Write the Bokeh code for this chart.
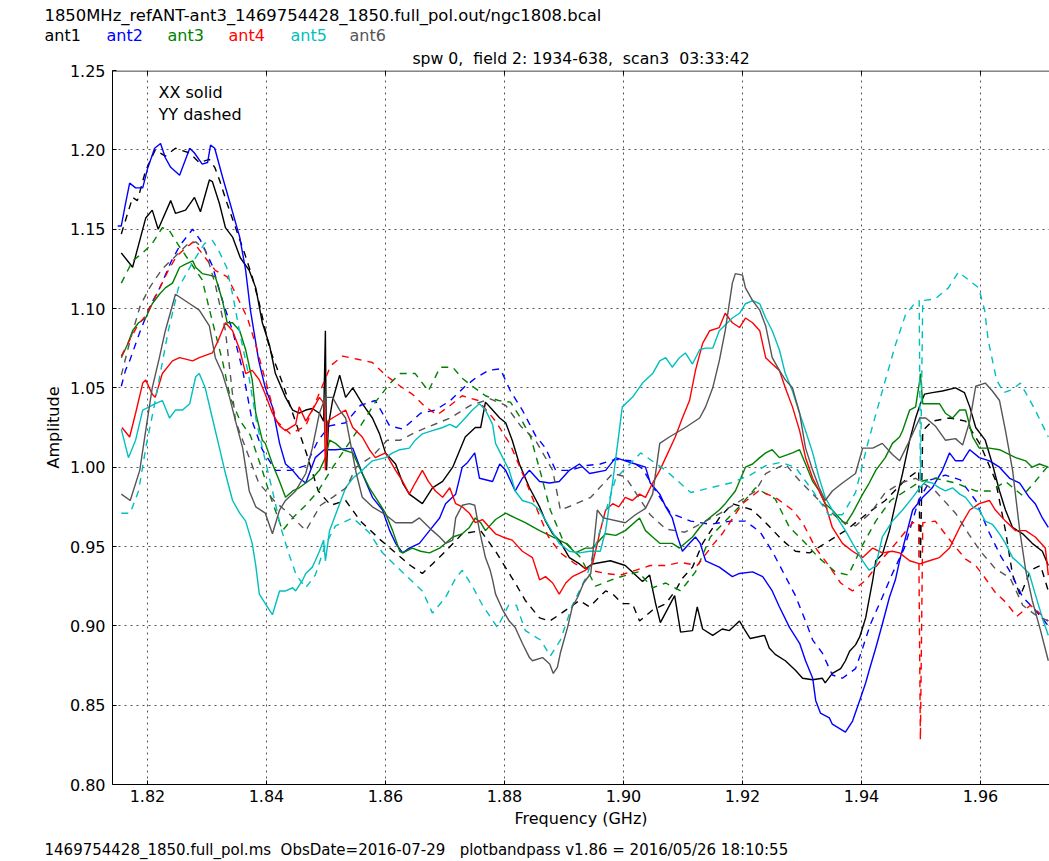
from bokeh.plotting import figure
from bokeh.layouts import column
from bokeh.models import Span, FixedTicker, PrintfTickFormatter, Range1d
from bokeh.core.properties import value
from bokeh.embed import file_html
from bokeh.resources import INLINE

FONT = "DejaVu Sans"
FS = "16px"
NB = "\u00a0"

# Bandpass amplitude vs frequency (GHz) for each antenna, (freq, amp) pairs
ant1_xx = [(1.8156,1.135),(1.8175,1.126),(1.8197,1.157),(1.8208,1.162),(1.8218,1.150),(1.8239,1.168),(1.8247,1.160),(1.8264,1.162),(1.8279,1.170),(1.8289,1.161),(1.8304,1.181),(1.8309,1.180),(1.8321,1.166),(1.8331,1.151),(1.8343,1.145),(1.8356,1.132),(1.8371,1.124),(1.8382,1.113),(1.8393,1.091),(1.8405,1.077),(1.8415,1.059),(1.8432,1.044),(1.8444,1.036),(1.8455,1.034),(1.8466,1.036),(1.8477,1.037),(1.8489,1.034),(1.8496,1.029),(1.8499,1.086),(1.8501,0.998),(1.8504,1.026),(1.8511,1.042),(1.8523,1.058),(1.8533,1.044),(1.8545,1.050),(1.8561,1.040),(1.8578,1.031),(1.8590,1.021),(1.8600,1.009),(1.8617,1.002),(1.8629,0.990),(1.8640,0.983),(1.8662,0.977),(1.8679,0.987),(1.8696,0.991),(1.8713,1.000),(1.8734,1.019),(1.8751,1.025),(1.8760,1.025),(1.8768,1.041),(1.8780,1.036),(1.8792,1.031),(1.8802,1.028),(1.8813,1.017),(1.8825,1.002),(1.8842,0.987),(1.8859,0.975),(1.8869,0.966),(1.8881,0.958),(1.8892,0.954),(1.8909,0.943),(1.8926,0.939),(1.8936,0.936),(1.8948,0.939),(1.8978,0.941),(1.9003,0.938),(1.9032,0.928),(1.9044,0.932),(1.9054,0.914),(1.9062,0.902),(1.9086,0.919),(1.9096,0.896),(1.9116,0.897),(1.9124,0.912),(1.9133,0.898),(1.9150,0.894),(1.9166,0.898),(1.9178,0.897),(1.9195,0.903),(1.9203,0.898),(1.9213,0.892),(1.9237,0.894),(1.9245,0.886),(1.9255,0.882),(1.9272,0.878),(1.9289,0.872),(1.9301,0.867),(1.9318,0.866),(1.9334,0.867),(1.9339,0.864),(1.9351,0.870),(1.9365,0.873),(1.9373,0.878),(1.9380,0.884),(1.9390,0.888),(1.9397,0.893),(1.9402,0.899),(1.9407,0.905),(1.9419,0.929),(1.9424,0.941),(1.9435,0.945),(1.9447,0.960),(1.9457,0.977),(1.9469,0.996),(1.9481,1.017),(1.9491,1.031),(1.9499,1.040),(1.9506,1.046),(1.9519,1.047),(1.9536,1.048),(1.9558,1.050),(1.9573,1.047),(1.9582,1.038),(1.9592,1.025),(1.9608,1.017),(1.9620,1.002),(1.9632,0.985),(1.9642,0.973),(1.9654,0.962),(1.9671,0.958),(1.9687,0.952),(1.9704,0.947),(1.9714,0.938)]

ant1_yy = [(1.8156,1.147),(1.8175,1.170),(1.8183,1.168),(1.8197,1.187),(1.8213,1.200),(1.8230,1.196),(1.8247,1.201),(1.8271,1.198),(1.8287,1.192),(1.8304,1.194),(1.8313,1.189),(1.8321,1.181),(1.8334,1.166),(1.8348,1.151),(1.8363,1.135),(1.8376,1.120),(1.8388,1.103),(1.8405,1.075),(1.8427,1.053),(1.8444,1.034),(1.8466,1.010),(1.8487,0.985),(1.8508,0.976),(1.8533,0.979),(1.8558,0.966),(1.8592,0.954),(1.8617,0.946),(1.8642,0.938),(1.8662,0.933),(1.8679,0.939),(1.8701,0.947),(1.8729,0.958),(1.8760,0.960),(1.8785,0.947),(1.8808,0.933),(1.8818,0.927),(1.8835,0.916),(1.8859,0.905),(1.8876,0.903),(1.8892,0.907),(1.8926,0.916),(1.8943,0.912),(1.8970,0.922),(1.8982,0.920),(1.8998,0.914),(1.9015,0.914),(1.9027,0.903),(1.9049,0.910),(1.9071,0.914),(1.9087,0.922),(1.9099,0.930),(1.9116,0.937),(1.9133,0.952),(1.9161,0.968),(1.9183,0.977),(1.9217,0.973),(1.9239,0.965),(1.9267,0.954),(1.9289,0.947),(1.9313,0.946),(1.9339,0.952),(1.9373,0.960),(1.9407,0.970),(1.9440,0.979),(1.9474,0.992),(1.9496,0.998),(1.9499,0.941),(1.9503,1.023),(1.9519,1.029),(1.9548,1.031),(1.9575,1.029),(1.9600,1.014),(1.9625,0.992),(1.9642,0.960),(1.9654,0.932),(1.9667,0.919),(1.9684,0.935),(1.9701,0.938),(1.9714,0.922)]

ant2_xx = [(1.8150,1.152),(1.8156,1.152),(1.8163,1.166),(1.8170,1.179),(1.8180,1.176),(1.8192,1.176),(1.8200,1.188),(1.8212,1.201),(1.8222,1.204),(1.8230,1.195),(1.8239,1.189),(1.8254,1.184),(1.8271,1.201),(1.8279,1.198),(1.8292,1.191),(1.8301,1.192),(1.8306,1.203),(1.8313,1.201),(1.8326,1.183),(1.8339,1.166),(1.8355,1.145),(1.8365,1.124),(1.8373,1.099),(1.8387,1.067),(1.8398,1.050),(1.8410,1.038),(1.8422,1.015),(1.8432,1.002),(1.8444,0.998),(1.8455,0.993),(1.8466,0.990),(1.8482,1.006),(1.8497,1.011),(1.8516,1.011),(1.8545,1.012),(1.8561,0.996),(1.8578,0.981),(1.8595,0.973),(1.8607,0.960),(1.8617,0.952),(1.8629,0.946),(1.8640,0.949),(1.8657,0.952),(1.8674,0.960),(1.8691,0.968),(1.8701,0.977),(1.8718,0.983),(1.8729,1.000),(1.8738,1.003),(1.8750,1.009),(1.8758,0.993),(1.8780,0.991),(1.8792,1.002),(1.8802,0.998),(1.8818,0.985),(1.8830,0.993),(1.8842,0.998),(1.8859,0.991),(1.8876,0.990),(1.8892,0.991),(1.8909,0.998),(1.8926,1.002),(1.8943,0.996),(1.8970,0.998),(1.8987,1.006),(1.9003,1.004),(1.9020,1.002),(1.9037,1.000),(1.9045,0.990),(1.9061,0.983),(1.9071,0.975),(1.9082,0.968),(1.9091,0.956),(1.9099,0.947),(1.9111,0.952),(1.9121,0.956),(1.9129,0.952),(1.9138,0.941),(1.9161,0.937),(1.9183,0.931),(1.9195,0.933),(1.9217,0.934),(1.9234,0.931),(1.9250,0.922),(1.9262,0.912),(1.9279,0.899),(1.9296,0.889),(1.9306,0.878),(1.9318,0.867),(1.9323,0.853),(1.9331,0.845),(1.9346,0.842),(1.9351,0.838),(1.9373,0.833),(1.9385,0.840),(1.9397,0.853),(1.9407,0.864),(1.9413,0.872),(1.9424,0.886),(1.9435,0.901),(1.9447,0.918),(1.9457,0.929),(1.9464,0.941),(1.9486,0.973),(1.9503,0.981),(1.9519,0.987),(1.9536,0.998),(1.9548,1.009),(1.9558,1.004),(1.9570,1.004),(1.9582,1.011),(1.9598,1.006),(1.9615,1.004),(1.9632,1.000),(1.9649,0.993),(1.9666,0.990),(1.9682,0.981),(1.9692,0.977),(1.9704,0.968),(1.9714,0.962)]

ant2_yy = [(1.8156,1.051),(1.8163,1.061),(1.8170,1.067),(1.8188,1.086),(1.8205,1.102),(1.8222,1.114),(1.8239,1.129),(1.8255,1.140),(1.8276,1.150),(1.8289,1.143),(1.8309,1.127),(1.8326,1.105),(1.8343,1.086),(1.8360,1.061),(1.8376,1.029),(1.8393,1.011),(1.8415,0.998),(1.8440,0.998),(1.8466,1.001),(1.8487,1.017),(1.8506,1.026),(1.8533,1.028),(1.8558,1.039),(1.8583,1.042),(1.8607,1.026),(1.8629,1.024),(1.8659,1.034),(1.8684,1.036),(1.8709,1.042),(1.8734,1.051),(1.8751,1.056),(1.8773,1.061),(1.8793,1.062),(1.8810,1.048),(1.8830,1.036),(1.8852,1.020),(1.8869,1.012),(1.8886,0.998),(1.8911,0.998),(1.8936,1.001),(1.8961,1.002),(1.8987,1.005),(1.9012,1.004),(1.9032,0.999),(1.9054,0.985),(1.9079,0.971),(1.9113,0.966),(1.9146,0.964),(1.9180,0.966),(1.9205,0.966),(1.9230,0.959),(1.9250,0.947),(1.9264,0.937),(1.9289,0.919),(1.9306,0.903),(1.9318,0.891),(1.9334,0.883),(1.9351,0.869),(1.9368,0.867),(1.9390,0.873),(1.9402,0.886),(1.9415,0.901),(1.9435,0.918),(1.9452,0.933),(1.9472,0.949),(1.9496,0.979),(1.9516,0.992),(1.9541,0.995),(1.9566,0.992),(1.9592,0.979),(1.9613,0.960),(1.9634,0.944),(1.9650,0.934),(1.9671,0.918),(1.9692,0.910),(1.9714,0.900)]

ant3_xx = [(1.8156,1.069),(1.8166,1.077),(1.8175,1.086),(1.8185,1.091),(1.8197,1.094),(1.8208,1.103),(1.8220,1.109),(1.8230,1.113),(1.8242,1.116),(1.8254,1.126),(1.8264,1.128),(1.8276,1.130),(1.8281,1.126),(1.8292,1.122),(1.8304,1.121),(1.8314,1.120),(1.8326,1.105),(1.8334,1.091),(1.8343,1.091),(1.8355,1.086),(1.8365,1.074),(1.8376,1.055),(1.8382,1.034),(1.8393,1.017),(1.8398,1.015),(1.8410,1.002),(1.8422,0.991),(1.8432,0.981),(1.8444,0.985),(1.8455,0.987),(1.8466,0.990),(1.8477,0.993),(1.8489,0.998),(1.8499,1.006),(1.8506,1.017),(1.8516,1.015),(1.8528,1.011),(1.8545,1.009),(1.8561,0.996),(1.8573,0.987),(1.8590,0.977),(1.8600,0.971),(1.8612,0.960),(1.8624,0.947),(1.8629,0.946),(1.8645,0.949),(1.8659,0.947),(1.8674,0.946),(1.8691,0.949),(1.8701,0.952),(1.8713,0.956),(1.8729,0.958),(1.8741,0.962),(1.8751,0.968),(1.8760,0.965),(1.8768,0.960),(1.8785,0.967),(1.8802,0.971),(1.8818,0.968),(1.8835,0.965),(1.8859,0.960),(1.8881,0.956),(1.8903,0.952),(1.8919,0.946),(1.8936,0.949),(1.8948,0.949),(1.8970,0.958),(1.8987,0.957),(1.9003,0.960),(1.9027,0.968),(1.9037,0.960),(1.9049,0.956),(1.9061,0.952),(1.9082,0.952),(1.9094,0.949),(1.9116,0.956),(1.9128,0.962),(1.9138,0.966),(1.9161,0.973),(1.9171,0.977),(1.9188,0.985),(1.9205,1.000),(1.9217,1.002),(1.9229,1.006),(1.9239,1.009),(1.9250,1.011),(1.9262,1.006),(1.9284,1.009),(1.9296,1.011),(1.9306,1.002),(1.9318,0.991),(1.9329,0.985),(1.9339,0.977),(1.9351,0.973),(1.9363,0.968),(1.9373,0.964),(1.9385,0.971),(1.9402,0.983),(1.9413,0.990),(1.9424,0.998),(1.9440,1.006),(1.9452,1.015),(1.9464,1.019),(1.9469,1.023),(1.9481,1.036),(1.9491,1.038),(1.9498,1.055),(1.9499,1.059),(1.9503,1.040),(1.9514,1.040),(1.9531,1.040),(1.9541,1.034),(1.9553,1.031),(1.9565,1.036),(1.9575,1.036),(1.9587,1.019),(1.9598,1.012),(1.9615,1.012),(1.9632,1.011),(1.9659,1.006),(1.9676,1.004),(1.9687,1.000),(1.9699,1.002),(1.9714,1.000)]

ant3_yy = [(1.8156,1.116),(1.8175,1.130),(1.8192,1.135),(1.8208,1.141),(1.8225,1.151),(1.8237,1.149),(1.8252,1.140),(1.8272,1.129),(1.8292,1.118),(1.8309,1.092),(1.8326,1.067),(1.8339,1.044),(1.8356,1.029),(1.8373,1.020),(1.8393,0.998),(1.8407,0.981),(1.8427,0.960),(1.8444,0.968),(1.8466,0.976),(1.8487,0.985),(1.8508,0.998),(1.8533,1.012),(1.8558,1.026),(1.8583,1.041),(1.8608,1.053),(1.8625,1.059),(1.8650,1.059),(1.8672,1.048),(1.8692,1.063),(1.8713,1.063),(1.8729,1.056),(1.8746,1.051),(1.8768,1.045),(1.8790,1.042),(1.8810,1.041),(1.8827,1.031),(1.8844,1.019),(1.8861,0.996),(1.8877,0.973),(1.8897,0.955),(1.8928,0.943),(1.8953,0.925),(1.8987,0.930),(1.9025,0.934),(1.9049,0.924),(1.9071,0.927),(1.9096,0.922),(1.9121,0.934),(1.9146,0.956),(1.9171,0.966),(1.9197,0.976),(1.9222,0.987),(1.9255,0.980),(1.9279,0.962),(1.9301,0.954),(1.9328,0.943),(1.9356,0.934),(1.9378,0.932),(1.9402,0.951),(1.9424,0.966),(1.9449,0.979),(1.9474,0.985),(1.9499,0.991),(1.9524,0.993),(1.9558,0.990),(1.9592,0.985),(1.9617,0.985),(1.9642,0.991),(1.9671,0.982),(1.9692,0.991),(1.9714,1.001)]

ant4_xx = [(1.8157,1.025),(1.8170,1.019),(1.8180,1.034),(1.8192,1.053),(1.8197,1.055),(1.8208,1.046),(1.8213,1.044),(1.8225,1.059),(1.8242,1.067),(1.8254,1.069),(1.8276,1.067),(1.8287,1.069),(1.8309,1.072),(1.8319,1.080),(1.8331,1.091),(1.8343,1.086),(1.8355,1.074),(1.8365,1.059),(1.8376,1.061),(1.8388,1.055),(1.8398,1.046),(1.8410,1.034),(1.8422,1.026),(1.8432,1.023),(1.8449,1.027),(1.8455,1.038),(1.8466,1.029),(1.8477,1.036),(1.8489,1.044),(1.8497,1.040),(1.8499,0.998),(1.8503,1.029),(1.8511,1.031),(1.8533,1.036),(1.8545,1.025),(1.8561,1.019),(1.8573,1.011),(1.8583,1.006),(1.8600,1.009),(1.8617,0.998),(1.8629,0.991),(1.8640,0.983),(1.8650,0.990),(1.8662,0.998),(1.8672,0.991),(1.8684,0.985),(1.8696,0.981),(1.8708,0.987),(1.8718,0.977),(1.8729,0.975),(1.8741,0.971),(1.8751,0.965),(1.8763,0.967),(1.8775,0.962),(1.8785,0.958),(1.8797,0.956),(1.8813,0.954),(1.8830,0.947),(1.8847,0.943),(1.8859,0.929),(1.8869,0.931),(1.8881,0.927),(1.8892,0.920),(1.8903,0.927),(1.8914,0.931),(1.8936,0.935),(1.8948,0.939),(1.8961,0.960),(1.8970,0.973),(1.8982,0.977),(1.8992,0.975),(1.9003,0.981),(1.9015,0.979),(1.9027,0.983),(1.9037,0.981),(1.9049,0.990),(1.9061,0.998),(1.9071,1.006),(1.9087,1.019),(1.9099,1.031),(1.9111,1.042),(1.9121,1.061),(1.9133,1.078),(1.9145,1.086),(1.9161,1.088),(1.9171,1.097),(1.9183,1.091),(1.9195,1.088),(1.9205,1.094),(1.9217,1.091),(1.9229,1.086),(1.9239,1.069),(1.9250,1.065),(1.9262,1.061),(1.9272,1.050),(1.9284,1.038),(1.9296,1.023),(1.9306,1.006),(1.9318,0.993),(1.9329,0.985),(1.9339,0.977),(1.9351,0.962),(1.9368,0.952),(1.9385,0.947),(1.9402,0.943),(1.9419,0.949),(1.9435,0.946),(1.9452,0.947),(1.9464,0.946),(1.9481,0.941),(1.9498,0.939),(1.9514,0.941),(1.9531,0.943),(1.9548,0.949),(1.9565,0.962),(1.9582,0.973),(1.9598,0.977),(1.9615,0.979),(1.9625,0.973),(1.9642,0.966),(1.9659,0.960),(1.9676,0.960),(1.9692,0.956),(1.9709,0.949),(1.9714,0.932)]

ant4_yy = [(1.8156,1.070),(1.8170,1.080),(1.8183,1.089),(1.8198,1.096),(1.8218,1.111),(1.8235,1.124),(1.8249,1.133),(1.8264,1.138),(1.8277,1.142),(1.8297,1.132),(1.8314,1.124),(1.8334,1.120),(1.8350,1.108),(1.8368,1.094),(1.8382,1.077),(1.8398,1.055),(1.8417,1.029),(1.8440,1.021),(1.8466,1.026),(1.8487,1.045),(1.8508,1.064),(1.8528,1.070),(1.8553,1.068),(1.8578,1.066),(1.8600,1.058),(1.8625,1.051),(1.8645,1.046),(1.8667,1.038),(1.8687,1.033),(1.8709,1.039),(1.8729,1.045),(1.8756,1.042),(1.8785,1.029),(1.8810,1.014),(1.8835,0.992),(1.8855,0.973),(1.8874,0.956),(1.8894,0.946),(1.8919,0.939),(1.8945,0.935),(1.8970,0.933),(1.8995,0.932),(1.9020,0.935),(1.9045,0.938),(1.9071,0.938),(1.9096,0.940),(1.9124,0.938),(1.9150,0.951),(1.9166,0.958),(1.9200,0.977),(1.9227,0.985),(1.9255,0.981),(1.9284,0.973),(1.9301,0.965),(1.9323,0.949),(1.9345,0.938),(1.9365,0.927),(1.9385,0.922),(1.9408,0.929),(1.9432,0.941),(1.9460,0.953),(1.9486,0.965),(1.9496,0.965),(1.9499,0.828),(1.9503,0.965),(1.9524,0.966),(1.9553,0.952),(1.9575,0.942),(1.9592,0.938),(1.9608,0.930),(1.9625,0.921),(1.9642,0.915),(1.9661,0.906),(1.9684,0.913),(1.9714,0.903)]

ant5_xx = [(1.8156,1.024),(1.8168,1.006),(1.8180,1.017),(1.8192,1.036),(1.8203,1.038),(1.8213,1.040),(1.8225,1.042),(1.8237,1.031),(1.8247,1.036),(1.8259,1.036),(1.8271,1.040),(1.8281,1.057),(1.8287,1.059),(1.8297,1.050),(1.8309,1.031),(1.8321,1.012),(1.8331,0.996),(1.8343,0.979),(1.8355,0.971),(1.8365,0.966),(1.8376,0.952),(1.8382,0.938),(1.8388,0.920),(1.8398,0.914),(1.8410,0.907),(1.8422,0.922),(1.8432,0.922),(1.8444,0.924),(1.8449,0.922),(1.8461,0.929),(1.8466,0.933),(1.8477,0.937),(1.8482,0.941),(1.8489,0.947),(1.8496,0.954),(1.8499,0.941),(1.8506,0.960),(1.8523,0.977),(1.8533,0.987),(1.8545,0.993),(1.8561,0.998),(1.8578,1.004),(1.8600,1.006),(1.8612,1.009),(1.8624,1.011),(1.8640,1.012),(1.8650,1.017),(1.8662,1.021),(1.8679,1.023),(1.8696,1.025),(1.8708,1.027),(1.8719,1.025),(1.8734,1.031),(1.8746,1.036),(1.8758,1.040),(1.8768,1.036),(1.8780,1.027),(1.8785,1.015),(1.8797,1.006),(1.8808,0.998),(1.8818,0.985),(1.8830,0.979),(1.8847,0.977),(1.8859,0.973),(1.8876,0.962),(1.8892,0.952),(1.8909,0.947),(1.8926,0.946),(1.8943,0.947),(1.8961,0.947),(1.8970,0.960),(1.8982,0.991),(1.8993,1.023),(1.8998,1.038),(1.9015,1.044),(1.9032,1.053),(1.9049,1.059),(1.9061,1.067),(1.9071,1.069),(1.9082,1.063),(1.9094,1.069),(1.9104,1.072),(1.9116,1.065),(1.9128,1.074),(1.9138,1.075),(1.9150,1.075),(1.9161,1.086),(1.9183,1.094),(1.9195,1.097),(1.9205,1.103),(1.9217,1.105),(1.9229,1.103),(1.9239,1.094),(1.9250,1.086),(1.9262,1.074),(1.9272,1.059),(1.9284,1.048),(1.9296,1.034),(1.9306,1.023),(1.9318,1.009),(1.9329,0.993),(1.9339,0.981),(1.9351,0.973),(1.9373,0.960),(1.9385,0.952),(1.9402,0.941),(1.9413,0.935),(1.9424,0.938),(1.9435,0.956),(1.9452,0.966),(1.9469,0.973),(1.9486,0.981),(1.9498,0.987),(1.9508,0.991),(1.9519,0.990),(1.9531,0.987),(1.9541,0.985),(1.9553,0.987),(1.9565,0.983),(1.9575,0.981),(1.9587,0.975),(1.9598,0.973),(1.9608,0.966),(1.9620,0.964),(1.9632,0.958),(1.9642,0.952),(1.9654,0.943),(1.9666,0.939),(1.9682,0.933),(1.9692,0.920),(1.9704,0.905),(1.9714,0.894)]

ant5_yy = [(1.8156,0.971),(1.8171,0.971),(1.8185,0.985),(1.8198,1.014),(1.8210,1.036),(1.8222,1.060),(1.8235,1.086),(1.8252,1.113),(1.8276,1.129),(1.8296,1.141),(1.8309,1.143),(1.8319,1.137),(1.8333,1.126),(1.8343,1.109),(1.8356,1.083),(1.8370,1.058),(1.8383,1.029),(1.8398,1.004),(1.8412,0.982),(1.8424,0.962),(1.8437,0.946),(1.8450,0.932),(1.8466,0.924),(1.8482,0.932),(1.8499,0.951),(1.8516,0.963),(1.8545,0.968),(1.8572,0.959),(1.8595,0.946),(1.8617,0.938),(1.8642,0.929),(1.8662,0.922),(1.8679,0.908),(1.8701,0.918),(1.8718,0.930),(1.8729,0.935),(1.8746,0.925),(1.8763,0.913),(1.8788,0.899),(1.8807,0.913),(1.8820,0.913),(1.8835,0.897),(1.8861,0.891),(1.8877,0.881),(1.8894,0.891),(1.8914,0.913),(1.8939,0.932),(1.8958,0.957),(1.8987,0.993),(1.9029,1.009),(1.9071,0.998),(1.9113,0.984),(1.9146,0.987),(1.9180,0.990),(1.9213,0.995),(1.9239,1.001),(1.9264,1.003),(1.9289,1.000),(1.9318,0.985),(1.9345,0.970),(1.9368,0.970),(1.9390,0.984),(1.9412,1.017),(1.9435,1.048),(1.9457,1.077),(1.9474,1.096),(1.9489,1.103),(1.9497,1.105),(1.9499,0.991),(1.9503,1.105),(1.9524,1.106),(1.9546,1.113),(1.9563,1.123),(1.9580,1.118),(1.9597,1.113),(1.9607,1.099),(1.9613,1.080),(1.9627,1.055),(1.9639,1.047),(1.9654,1.049),(1.9667,1.053),(1.9692,1.036),(1.9714,1.019)]

ant6_xx = [(1.8156,0.983),(1.8171,0.979),(1.8187,0.998),(1.8197,1.023),(1.8208,1.050),(1.8220,1.069),(1.8230,1.086),(1.8247,1.109),(1.8271,1.103),(1.8287,1.099),(1.8304,1.089),(1.8314,1.069),(1.8326,1.059),(1.8338,1.044),(1.8348,1.029),(1.8360,1.012),(1.8371,0.985),(1.8382,0.975),(1.8398,0.971),(1.8410,0.958),(1.8422,0.973),(1.8432,0.979),(1.8449,0.985),(1.8466,0.996),(1.8477,1.012),(1.8489,1.034),(1.8499,1.044),(1.8511,1.044),(1.8523,1.036),(1.8533,1.031),(1.8551,0.996),(1.8561,0.981),(1.8578,0.975),(1.8600,0.970),(1.8617,0.965),(1.8645,0.965),(1.8657,0.968),(1.8679,0.960),(1.8691,0.956),(1.8701,0.952),(1.8713,0.954),(1.8718,0.968),(1.8729,0.976),(1.8741,0.977),(1.8750,0.976),(1.8758,0.960),(1.8768,0.943),(1.8776,0.935),(1.8780,0.929),(1.8785,0.920),(1.8797,0.910),(1.8808,0.903),(1.8818,0.899),(1.8830,0.889),(1.8842,0.880),(1.8847,0.878),(1.8864,0.880),(1.8876,0.876),(1.8882,0.870),(1.8889,0.874),(1.8894,0.883),(1.8906,0.899),(1.8914,0.912),(1.8923,0.918),(1.8933,0.927),(1.8945,0.933),(1.8956,0.973),(1.8966,0.968),(1.9003,0.965),(1.9020,0.970),(1.9037,0.974),(1.9049,0.983),(1.9061,1.015),(1.9077,1.019),(1.9104,1.025),(1.9116,1.028),(1.9128,1.031),(1.9138,1.038),(1.9150,1.050),(1.9161,1.067),(1.9171,1.086),(1.9183,1.116),(1.9188,1.122),(1.9200,1.121),(1.9205,1.113),(1.9217,1.105),(1.9229,1.099),(1.9239,1.089),(1.9250,1.069),(1.9262,1.061),(1.9272,1.055),(1.9284,1.050),(1.9296,1.034),(1.9306,1.012),(1.9318,0.998),(1.9329,0.987),(1.9339,0.979),(1.9351,0.985),(1.9368,0.990),(1.9390,0.996),(1.9402,1.012),(1.9419,1.012),(1.9435,1.015),(1.9452,1.008),(1.9464,1.004),(1.9481,1.017),(1.9498,1.031),(1.9508,1.031),(1.9524,1.026),(1.9541,1.017),(1.9558,1.018),(1.9570,1.014),(1.9582,1.029),(1.9592,1.051),(1.9608,1.053),(1.9620,1.048),(1.9632,1.042),(1.9642,1.023),(1.9654,0.998),(1.9666,0.960),(1.9676,0.935),(1.9687,0.916),(1.9701,0.897),(1.9714,0.878)]

ant6_yy = [(1.8156,1.058),(1.8171,1.080),(1.8188,1.102),(1.8205,1.114),(1.8225,1.125),(1.8247,1.133),(1.8266,1.140),(1.8281,1.142),(1.8297,1.137),(1.8314,1.115),(1.8331,1.086),(1.8348,1.029),(1.8365,1.012),(1.8387,0.990),(1.8415,0.978),(1.8437,0.971),(1.8466,0.960),(1.8491,0.976),(1.8511,0.981),(1.8534,0.987),(1.8551,1.000),(1.8578,1.007),(1.8603,1.017),(1.8625,1.017),(1.8650,1.022),(1.8676,1.026),(1.8709,1.031),(1.8743,1.039),(1.8776,1.043),(1.8802,1.039),(1.8827,1.026),(1.8852,1.017),(1.8881,0.998),(1.8894,0.973),(1.8914,0.976),(1.8945,0.981),(1.8982,0.996),(1.9003,0.994),(1.9029,0.979),(1.9045,0.970),(1.9071,0.961),(1.9103,0.959),(1.9138,0.966),(1.9163,0.971),(1.9197,0.979),(1.9222,0.985),(1.9239,0.996),(1.9272,1.002),(1.9297,0.991),(1.9334,0.977),(1.9365,0.966),(1.9390,0.963),(1.9415,0.971),(1.9440,0.984),(1.9466,0.990),(1.9491,0.993),(1.9524,0.985),(1.9558,0.971),(1.9580,0.958),(1.9600,0.947),(1.9625,0.936),(1.9650,0.930),(1.9671,0.913),(1.9692,0.907),(1.9714,0.903)]

antennas = ["ant1", "ant2", "ant3", "ant4", "ant5", "ant6"]
colors = ["#000000", "#0000ff", "#008000", "#ff0000", "#00bfbf", "#555555"]
xx_series = [ant1_xx, ant2_xx, ant3_xx, ant4_xx, ant5_xx, ant6_xx]
yy_series = [ant1_yy, ant2_yy, ant3_yy, ant4_yy, ant5_yy, ant6_yy]

x_ticks = [1.82, 1.84, 1.86, 1.88, 1.90, 1.92, 1.94, 1.96]
y_ticks = [0.80, 0.85, 0.90, 0.95, 1.00, 1.05, 1.10, 1.15, 1.20, 1.25]

caltable = "1850MHz_refANT-ant3_1469754428_1850.full_pol.out/ngc1808.bcal"
subtitle = f"spw 0,{NB} field 2: 1934-638,{NB} scan3{NB} 03:33:42"
footer = (f"1469754428_1850.full_pol.ms{NB} ObsDate=2016-07-29{NB}{NB} "
          "plotbandpass v1.86 = 2016/05/26 18:10:55")

W = 1049
HEAD_H, MAIN_H, FOOT_H = 44, 793, 24


def text_strip(height):
    """A bare figure used as a strip of free text, measured in pixels from top-left."""
    f = figure(width=W, height=height, output_backend="svg", toolbar_location=None,
               x_range=Range1d(0, W), y_range=Range1d(height, 0),
               x_axis_type=None, y_axis_type=None, min_border=0, title=None)
    f.frame_align = False
    f.outline_line_color = None
    f.grid.visible = False
    f.background_fill_color = "white"
    f.border_fill_color = "white"
    return f


def put(f, x, y, text, color="black", align="left", size=FS):
    f.text(x=[x], y=[y], text=[text], text_color=color, text_font=value(FONT),
           text_font_size=value(size), text_align=align, text_baseline="middle")


# header: table name and per-antenna colour key
head = text_strip(HEAD_H)
put(head, 44, 15, caltable, size="16.4px")
for lx, name, col in zip([44, 106, 167, 228, 290, 349], antennas, colors):
    put(head, lx, 35, name, col)

# main bandpass panel
p = figure(width=W, height=MAIN_H, output_backend="svg", toolbar_location=None, title=subtitle,
           x_range=Range1d(1.81412, 1.97160), y_range=Range1d(0.80, 1.25),
           min_border_left=112, min_border_right=0, min_border_top=26, min_border_bottom=53)
p.frame_align = False
p.outline_line_color = None
p.background_fill_color = "white"
p.border_fill_color = "white"
p.title.align = "center"
p.title.offset = 6
p.title.standoff = 5
p.title.text_font = FONT
p.title.text_font_size = "15.7px"
p.title.text_font_style = "normal"
p.title.text_color = "black"

for ax, ticks in ((p.xaxis[0], x_ticks), (p.yaxis[0], y_ticks)):
    ax.ticker = FixedTicker(ticks=ticks)
    ax.formatter = PrintfTickFormatter(format="%.2f")
    ax.major_tick_in = 4
    ax.major_tick_out = 0
    ax.minor_tick_line_color = None
    ax.axis_line_color = "black"
    ax.major_tick_line_color = "black"
    ax.major_label_text_font = FONT
    ax.major_label_text_font_size = FS
    ax.major_label_text_color = "black"
    ax.axis_label_text_font = FONT
    ax.axis_label_text_font_size = FS
    ax.axis_label_text_font_style = "normal"
    ax.axis_label_text_color = "black"

p.xaxis.axis_label = "Frequency (GHz)"
p.yaxis.axis_label = "Amplitude"
p.xaxis.major_label_standoff = 5
p.xaxis.axis_label_standoff = 4
p.yaxis.major_label_standoff = 7
p.yaxis.axis_label_standoff = 4

# top spine with inward ticks
p.add_layout(Span(location=1.2497, dimension="width", line_color="black", line_width=1))
p.segment(x0=x_ticks, y0=[1.25] * len(x_ticks), x1=x_ticks,
          y1=[1.25 - 0.0027] * len(x_ticks), line_color="black", line_width=1)

for g in (p.xgrid[0], p.ygrid[0]):
    g.grid_line_color = "#555555"
    g.grid_line_dash = "2 4"
    g.grid_line_width = 1

for name, col, xx, yy in zip(antennas, colors, xx_series, yy_series):
    p.line([f for f, a in xx], [a for f, a in xx], line_color=col, line_width=1.4)
    p.line([f for f, a in yy], [a for f, a in yy], line_color=col, line_width=1.4,
           line_dash="7 6")

p.text(x=[1.82185, 1.82185], y=[1.2361, 1.2223], text=["XX solid", "YY dashed"],
       text_color="black", text_font=value(FONT), text_font_size=value(FS),
       text_baseline="middle")

# footer: measurement set and software version
foot = text_strip(FOOT_H)
put(foot, 44, 12, footer, size="15px")

page = column(head, p, foot)
open("out.html", "w").write(file_html(page, INLINE))
